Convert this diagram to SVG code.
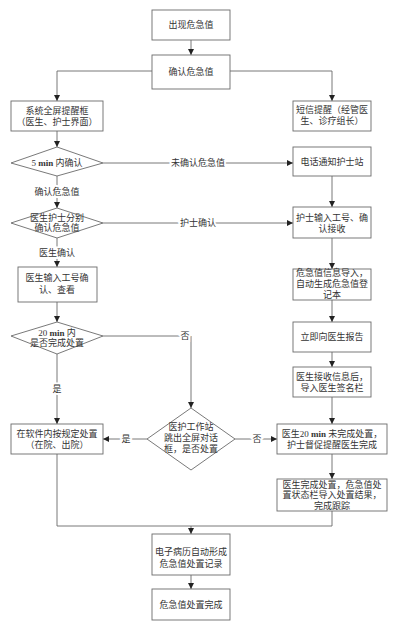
<svg xmlns="http://www.w3.org/2000/svg" width="400" height="628" viewBox="0 0 400 628">
<style>
text{font-family:"Liberation Serif","Noto Sans CJK SC",serif;font-size:9px;fill:#333;text-anchor:middle;dominant-baseline:central}
.n rect,.n polygon{fill:#fff;stroke:#6a6a6a;stroke-width:0.9}
.c path{fill:none;stroke:#6a6a6a;stroke-width:0.9}
.lbl{paint-order:stroke;stroke:#fff;stroke-width:4px}
.b{font-weight:bold}
</style>
<defs>
<marker id="ah" viewBox="0 0 10 10" refX="10" refY="5" markerWidth="6" markerHeight="6" orient="auto" markerUnits="userSpaceOnUse">
<path d="M0,0 L10,5 L0,10 z" fill="#222"/>
</marker>
</defs>
<rect width="400" height="628" fill="#fff"/>
<g class="c" id="connectors">
<path d="M191,40 V55" marker-end="url(#ah)"/>
<path d="M152,71 H57 V101" marker-end="url(#ah)"/>
<path d="M230,71 H332 V101" marker-end="url(#ah)"/>
<path d="M57,131 V147" marker-end="url(#ah)"/>
<path d="M103,163 H293" marker-end="url(#ah)"/>
<path d="M57,176 V208" marker-end="url(#ah)"/>
<path d="M332,176 V207" marker-end="url(#ah)"/>
<path d="M103,223 H293" marker-end="url(#ah)"/>
<path d="M57,238 V267" marker-end="url(#ah)"/>
<path d="M332,238 V269" marker-end="url(#ah)"/>
<path d="M57,302 V322" marker-end="url(#ah)"/>
<path d="M332,300 V322" marker-end="url(#ah)"/>
<path d="M332,352 V367" marker-end="url(#ah)"/>
<path d="M332,397 V424" marker-end="url(#ah)"/>
<path d="M103,336 H191 V408" marker-end="url(#ah)"/>
<path d="M57,354 V424" marker-end="url(#ah)"/>
<path d="M147,439 H103" marker-end="url(#ah)"/>
<path d="M235,439 H277" marker-end="url(#ah)"/>
<path d="M332,454 V479" marker-end="url(#ah)"/>
<path d="M57,454 V526 H332 V511"/>
<path d="M191,526 V534" marker-end="url(#ah)"/>
<path d="M191,575 V589" marker-end="url(#ah)"/>
<text class="lbl" x="198" y="163">未确认危急值</text>
<text class="lbl" x="57" y="192">确认危急值</text>
<text class="lbl" x="198" y="223">护士确认</text>
<text class="lbl" x="57" y="253">医生确认</text>
<text class="lbl" x="185" y="336">否</text>
<text class="lbl" x="57" y="389">是</text>
<text class="lbl" x="126" y="439">是</text>
<text class="lbl" x="257" y="439">否</text>
</g>
<g class="n" id="n1"><rect x="152" y="10" width="78" height="30"/><text x="191" y="25">出现危急值</text></g>
<g class="n" id="n2"><rect x="152" y="55" width="78" height="34"/><text x="191" y="72">确认危急值</text></g>
<g class="n" id="n3"><rect x="11" y="101" width="92" height="30"/><text x="57" y="111">系统全屏提醒框</text><text x="57" y="122">（医生、护士界面）</text></g>
<g class="n" id="n4"><rect x="293" y="101" width="78" height="30"/><text x="332" y="110">短信提醒（经管医</text><text x="332" y="121">生、诊疗组长）</text></g>
<g class="n" id="d1"><polygon points="57,147 103,163 57,176 11,163"/><text x="57" y="163">5 <tspan class="b">min</tspan> 内确认</text></g>
<g class="n" id="n5"><rect x="293" y="147" width="78" height="29"/><text x="332" y="162">电话通知护士站</text></g>
<g class="n" id="d2"><polygon points="57,208 103,223 57,238 11,223"/><text x="57" y="218">医生护士分别</text><text x="57" y="228">确认危急值</text></g>
<g class="n" id="n6"><rect x="293" y="207" width="78" height="31"/><text x="332" y="218">护士输入工号、确</text><text x="332" y="229">认接收</text></g>
<g class="n" id="n7"><rect x="18" y="267" width="79" height="35"/><text x="57" y="278">医生输入工号确</text><text x="57" y="290">认、查看</text></g>
<g class="n" id="n8"><rect x="293" y="269" width="78" height="31"/><text x="332" y="273">危急值信息导入，</text><text x="332" y="284">自动生成危急值登</text><text x="332" y="295">记本</text></g>
<g class="n" id="n9"><rect x="293" y="322" width="78" height="30"/><text x="332" y="337">立即向医生报告</text></g>
<g class="n" id="d3"><polygon points="57,322 103,336 57,354 11,336"/><text x="57" y="333">20 <tspan class="b">min</tspan> 内</text><text x="57" y="343">是否完成处置</text></g>
<g class="n" id="n10"><rect x="293" y="367" width="78" height="30"/><text x="332" y="377">医生接收信息后，</text><text x="332" y="388">导入医生签名栏</text></g>
<g class="n" id="d4"><polygon points="191,408 235,439 191,470 147,439"/><text x="191" y="427">医护工作站</text><text x="191" y="438">跳出全屏对话</text><text x="191" y="449">框，是否处置</text></g>
<g class="n" id="n11"><rect x="11" y="424" width="92" height="30"/><text x="57" y="434">在软件内按规定处置</text><text x="57" y="445">（在院、出院）</text></g>
<g class="n" id="n12"><rect x="277" y="424" width="110" height="30"/><text x="332" y="434">医生20 <tspan class="b">min</tspan> 未完成处置，</text><text x="332" y="445">护士督促提醒医生完成</text></g>
<g class="n" id="n13"><rect x="277" y="479" width="110" height="32"/><text x="332" y="485">医生完成处置，危急值处</text><text x="332" y="495">置状态栏导入处置结果，</text><text x="332" y="506">完成跟踪</text></g>
<g class="n" id="n14"><rect x="152" y="534" width="78" height="41"/><text x="191" y="552">电子病历自动形成</text><text x="191" y="564">危急值处置记录</text></g>
<g class="n" id="n15"><rect x="152" y="589" width="78" height="31"/><text x="191" y="605">危急值处置完成</text></g>
</svg>
